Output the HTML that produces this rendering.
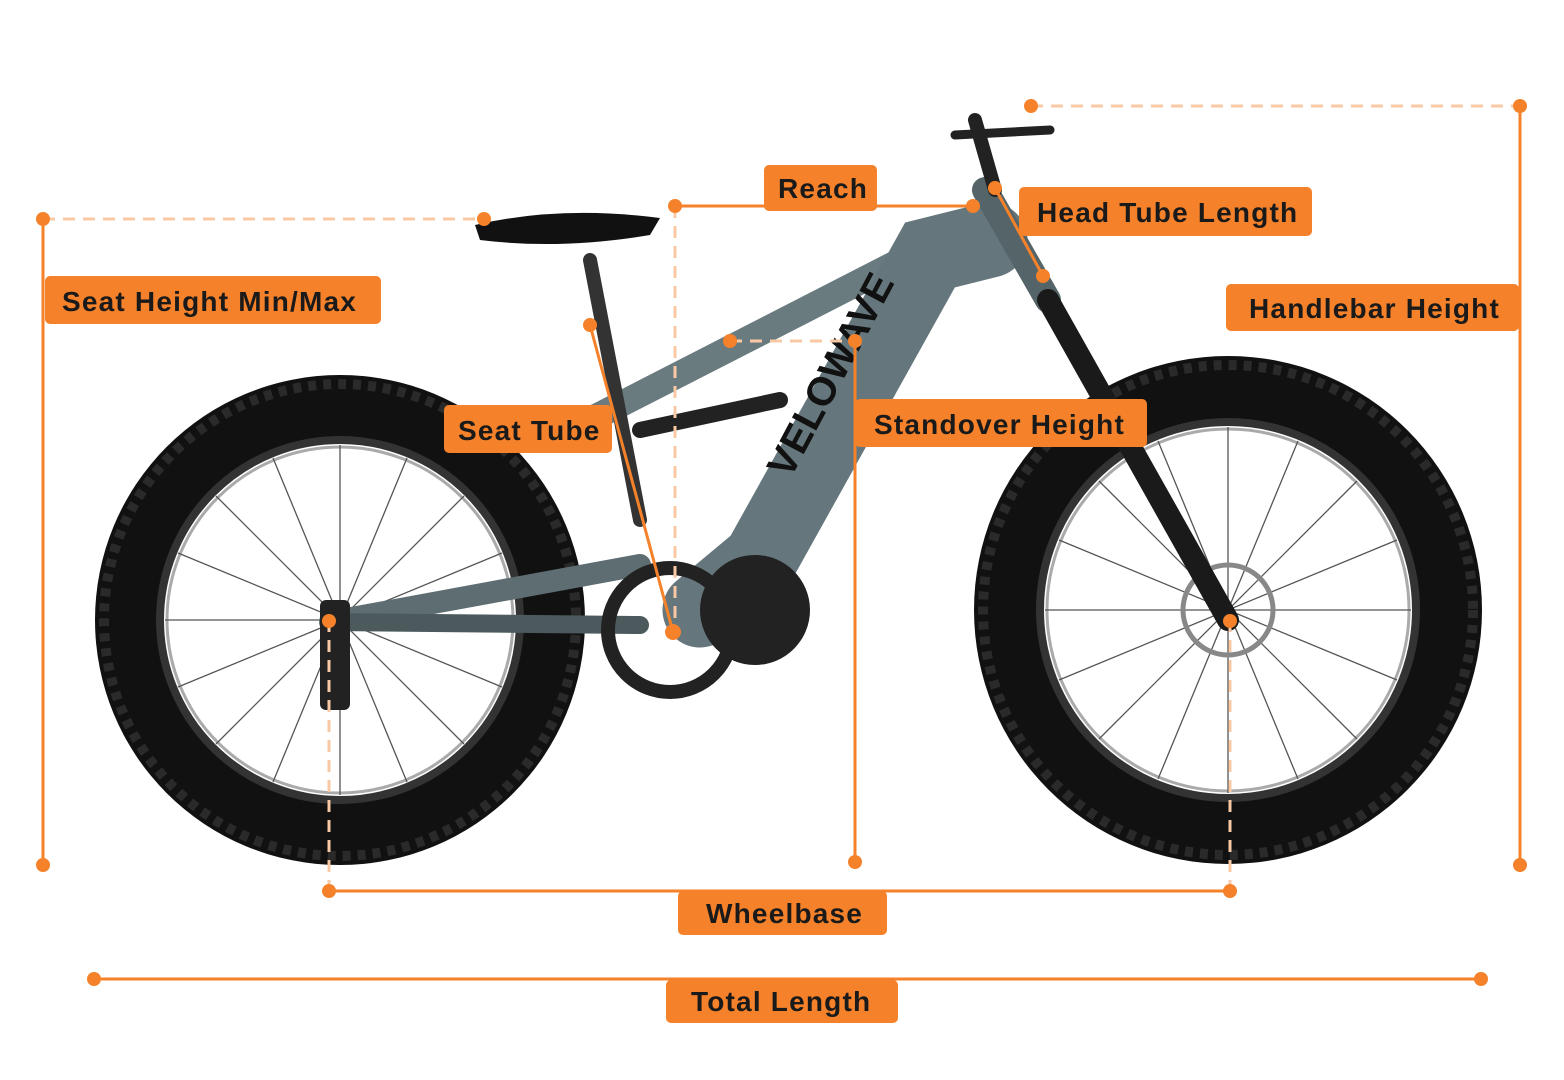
<!DOCTYPE html>
<html><head><meta charset="utf-8"><style>
html,body{margin:0;padding:0;background:#fff;width:1564px;height:1080px;overflow:hidden}
svg{display:block}
.lbl{font-family:"Liberation Sans",sans-serif;font-weight:bold;font-size:28px;fill:#1a1a1a;letter-spacing:1.2px}
</style></head><body>
<svg width="1564" height="1080" viewBox="0 0 1564 1080" xmlns="http://www.w3.org/2000/svg">
<!-- rear wheel -->
<g>
<circle cx="340" cy="620" r="245" fill="#111"/>
<circle cx="340" cy="620" r="236" fill="none" stroke="#2a2a2a" stroke-width="10" stroke-dasharray="8 7"/>
<circle cx="340" cy="620" r="180" fill="#fff" stroke="#333" stroke-width="8"/>
<circle cx="340" cy="620" r="173" fill="none" stroke="#aaa" stroke-width="3"/>
<g stroke="#555" stroke-width="1.3">
<line x1="340" y1="445" x2="340" y2="795"/><line x1="165" y1="620" x2="515" y2="620"/>
<line x1="216" y1="496" x2="464" y2="744"/><line x1="464" y1="496" x2="216" y2="744"/>
<line x1="273" y1="458" x2="407" y2="782"/><line x1="407" y1="458" x2="273" y2="782"/>
<line x1="178" y1="553" x2="502" y2="687"/><line x1="502" y1="553" x2="178" y2="687"/>
</g>
</g>
<!-- front wheel -->
<g>
<circle cx="1228" cy="610" r="254" fill="#111"/>
<circle cx="1228" cy="610" r="245" fill="none" stroke="#2a2a2a" stroke-width="10" stroke-dasharray="8 7"/>
<circle cx="1228" cy="610" r="188" fill="#fff" stroke="#333" stroke-width="8"/>
<circle cx="1228" cy="610" r="181" fill="none" stroke="#aaa" stroke-width="3"/>
<g stroke="#555" stroke-width="1.3">
<line x1="1228" y1="427" x2="1228" y2="793"/><line x1="1045" y1="610" x2="1411" y2="610"/>
<line x1="1099" y1="481" x2="1357" y2="739"/><line x1="1357" y1="481" x2="1099" y2="739"/>
<line x1="1158" y1="441" x2="1298" y2="779"/><line x1="1298" y1="441" x2="1158" y2="779"/>
<line x1="1059" y1="540" x2="1397" y2="680"/><line x1="1397" y1="540" x2="1059" y2="680"/>
</g>
<circle cx="1228" cy="610" r="45" fill="none" stroke="#888" stroke-width="5"/>
</g>
<!-- frame -->
<g stroke-linecap="round" fill="none">
<line x1="330" y1="622" x2="640" y2="565" stroke="#5d6d72" stroke-width="22"/>
<line x1="330" y1="622" x2="640" y2="625" stroke="#4c5a5e" stroke-width="18"/>
<line x1="590" y1="420" x2="990" y2="215" stroke="#6a7b80" stroke-width="26"/>
<path d="M700 610 L760 560 L930 255 L990 240" stroke="#65777c" stroke-width="75"/>
<line x1="590" y1="260" x2="640" y2="520" stroke="#333" stroke-width="14"/>
<line x1="640" y1="430" x2="780" y2="400" stroke="#222" stroke-width="16"/>
<line x1="985" y1="190" x2="1048" y2="300" stroke="#556468" stroke-width="26"/>
<line x1="1048" y1="300" x2="1228" y2="620" stroke="#1a1a1a" stroke-width="22"/>
<line x1="975" y1="120" x2="995" y2="190" stroke="#222" stroke-width="14"/>
<line x1="955" y1="135" x2="1050" y2="130" stroke="#222" stroke-width="9"/>
</g>
<circle cx="755" cy="610" r="55" fill="#222"/>
<circle cx="670" cy="630" r="62" fill="none" stroke="#222" stroke-width="14"/>
<rect x="320" y="600" width="30" height="110" fill="#222" rx="6"/>
<path d="M475 225 Q560 205 660 218 L650 235 Q560 250 480 240 Z" fill="#111"/>
<text x="790" y="480" transform="rotate(-62 790 480)" font-family="Liberation Sans,sans-serif" font-weight="bold" font-size="40" fill="#111">VELOWAVE</text>

<!-- measurement lines -->
<g stroke="#F5822A" stroke-width="3" fill="none">
<line x1="43" y1="219" x2="43" y2="865"/>
<line x1="675" y1="206" x2="973" y2="206"/>
<line x1="995" y1="188" x2="1043" y2="276"/>
<line x1="1520" y1="106" x2="1520" y2="865"/>
<line x1="590" y1="325" x2="673" y2="632"/>
<line x1="855" y1="341" x2="855" y2="862"/>
<line x1="329" y1="891" x2="1230" y2="891"/>
<line x1="94" y1="979" x2="1481" y2="979"/>
</g>
<g stroke="#F8C9A4" stroke-width="3" stroke-dasharray="12 8" fill="none">
<line x1="43" y1="219" x2="484" y2="219"/>
<line x1="1031" y1="106" x2="1520" y2="106"/>
<line x1="675" y1="206" x2="675" y2="630"/>
<line x1="730" y1="341" x2="855" y2="341"/>
<line x1="329" y1="620" x2="329" y2="891"/>
<line x1="1230" y1="620" x2="1230" y2="891"/>
</g>
<g fill="#F5822A">
<circle cx="43" cy="219" r="7"/><circle cx="43" cy="865" r="7"/><circle cx="484" cy="219" r="7"/>
<circle cx="675" cy="206" r="7"/><circle cx="973" cy="206" r="7"/>
<circle cx="995" cy="188" r="7"/><circle cx="1043" cy="276" r="7"/>
<circle cx="1031" cy="106" r="7"/><circle cx="1520" cy="106" r="7"/><circle cx="1520" cy="865" r="7"/>
<circle cx="590" cy="325" r="7"/><circle cx="673" cy="632" r="8"/>
<circle cx="730" cy="341" r="7"/><circle cx="855" cy="341" r="7"/><circle cx="855" cy="862" r="7"/>
<circle cx="329" cy="621" r="7"/><circle cx="1230" cy="621" r="7"/>
<circle cx="329" cy="891" r="7"/><circle cx="1230" cy="891" r="7"/>
<circle cx="94" cy="979" r="7"/><circle cx="1481" cy="979" r="7"/>
</g>
<!-- labels -->
<g fill="#F5822A">
<rect x="45" y="276" width="336" height="48" rx="5"/>
<rect x="764" y="165" width="113" height="46" rx="5"/>
<rect x="1019" y="187" width="293" height="49" rx="5"/>
<rect x="1226" y="284" width="293" height="47" rx="5"/>
<rect x="444" y="405" width="168" height="48" rx="5"/>
<rect x="855" y="399" width="292" height="48" rx="5"/>
<rect x="678" y="891" width="209" height="44" rx="5"/>
<rect x="666" y="980" width="232" height="43" rx="5"/>
</g>
<g class="lbl">
<text x="62" y="311">Seat Height Min/Max</text>
<text x="778" y="198">Reach</text>
<text x="1037" y="222">Head Tube Length</text>
<text x="1249" y="318">Handlebar Height</text>
<text x="458" y="440">Seat Tube</text>
<text x="874" y="434">Standover Height</text>
<text x="706" y="923">Wheelbase</text>
<text x="691" y="1011">Total Length</text>
</g>
</svg>
</body></html>
